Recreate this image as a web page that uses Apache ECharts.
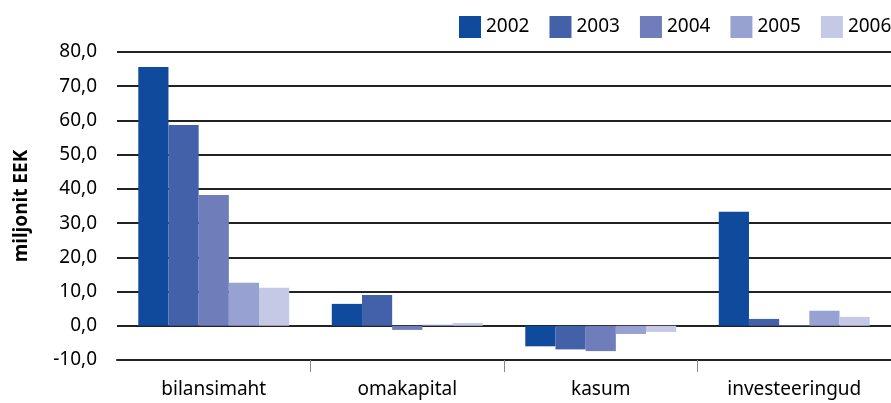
<!DOCTYPE html>
<html>
<head>
<meta charset="utf-8">
<script src="https://cdn.jsdelivr.net/npm/echarts@6/dist/echarts.min.js"></script>
<style>
  html, body { margin: 0; padding: 0; background: #fff; }
  #chart { width: 891px; height: 403px; }
</style>
</head>
<body>
<div id="chart"></div>
<script>
var categories = ['bilansimaht', 'omakapital', 'kasum', 'investeeringud'];
var years = ['2002', '2003', '2004', '2005', '2006'];
var v2002 = [75.6, 6.4, -6.0, 33.3];
var v2003 = [58.7, 9.0, -6.9, 2.0];
var v2004 = [38.2, -1.2, -7.4, 0.2];
var v2005 = [12.6, 0.3, -2.4, 4.4];
var v2006 = [11.1, 0.8, -1.8, 2.6];
var colors = ['#0f4a9c', '#4261a8', '#6f7dbb', '#98a2d2', '#c5c9e6'];

var values = [v2002, v2003, v2004, v2005, v2006];
var fontName = 'Noto Sans';

var series = years.map(function (y, i) {
    return {
        name: y,
        type: 'bar',
        data: values[i],
        barGap: '0%',
        barCategoryGap: '22%',
        itemStyle: { color: colors[i] }
    };
});

var option = {
    animation: false,
    legend: {
        left: 454,
        top: 11,
        width: 600,
        itemWidth: 22,
        itemHeight: 22,
        itemGap: 20,
        icon: 'rect',
        textStyle: { fontFamily: fontName, fontSize: 19, color: '#000' },
        data: years
    },
    // plot runs off the right edge, like the original
    grid: { left: 117, right: 0, top: 52, bottom: 43 },
    xAxis: {
        type: 'category',
        data: categories,
        axisLine: { onZero: false, lineStyle: { color: '#222', width: 2 } },
        axisTick: {
            show: true, length: 12, lineStyle: { color: '#888', width: 1 },
            interval: function (idx) { return idx > 0 && idx < categories.length; }
        },
        axisLabel: { fontFamily: fontName, fontSize: 19, color: '#000', margin: 20 }
    },
    yAxis: {
        type: 'value',
        min: -10,
        max: 80,
        interval: 10,
        name: 'miljonit EEK',
        nameLocation: 'middle',
        nameGap: 86,
        nameTextStyle: { fontFamily: fontName, fontSize: 19, fontWeight: 'bold', color: '#000' },
        axisLine: { show: false },
        axisTick: { show: false },
        axisLabel: {
            fontFamily: fontName, fontSize: 19, color: '#000', margin: 20,
            formatter: function (v) { return v.toFixed(1).replace('.', ','); }
        },
        splitLine: { lineStyle: { color: '#222', width: 2 } }
    },
    series: series
};

var chart = echarts.init(document.getElementById('chart'));
chart.setOption(option);
</script>
</body>
</html>
